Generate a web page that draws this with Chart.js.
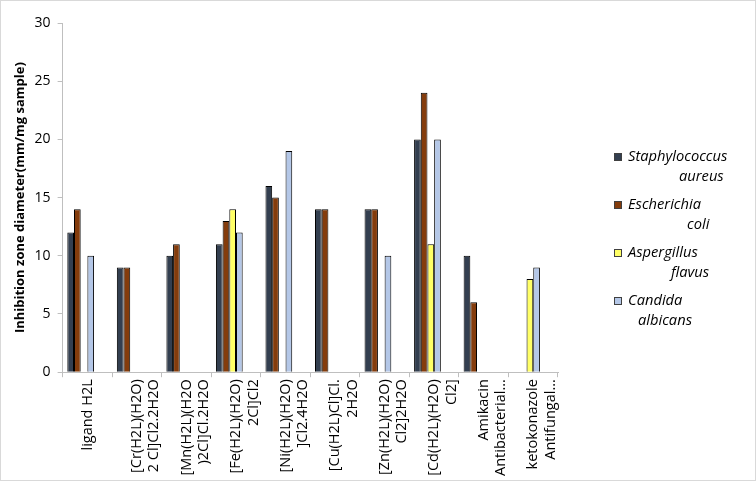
<!DOCTYPE html>
<html>
<head>
<meta charset="utf-8">
<script src="https://cdn.jsdelivr.net/npm/chart.js@4.4.0/dist/chart.umd.min.js"></script>
<style>
  html, body { margin: 0; padding: 0; background: #fff; }
  #wrap { position: relative; width: 756px; height: 481px; box-sizing: border-box; border: 1px solid #d9d9d9; }
</style>
</head>
<body>
<div id="wrap"><canvas id="bars" width="754" height="479"></canvas></div>
<script>
'use strict';

const compounds = [
  'ligand H2L',
  ['[Cr(H2L)(H2O)', '2 Cl]Cl2.2H2O'],
  ['[Mn(H2L)(H2O', ')2Cl]Cl.2H2O'],
  ['[Fe(H2L)(H2O)', '2Cl]Cl2'],
  ['[Ni(H2L)(H2O)', ']Cl2.4H2O'],
  ['[Cu(H2L)Cl]Cl.', '2H2O'],
  ['[Zn(H2L)(H2O)', 'Cl2]2H2O'],
  ['[Cd(H2L)(H2O)', 'Cl2]'],
  ['Amikacin', 'Antibacterial...'],
  ['ketokonazole', 'Antifungal...']
];

// microbes (two lines each, as in the legend)
const microbes = [
  ['Staphylococcus', 'aureus'],
  ['Escherichia', 'coli'],
  ['Aspergillus', 'flavus'],
  ['Candida', 'albicans']
];

const staphAureus = [12, 9, 10, 11, 16, 14, 14, 20, 10, 0];
const eColi       = [14, 9, 11, 13, 15, 14, 14, 24, 6, 0];
const aspFlavus   = [0, 0, 0, 14, 0, 0, 0, 11, 0, 8];
const candAlb     = [10, 0, 0, 12, 19, 0, 10, 20, 0, 9];

const yTicks = [0, 5, 10, 15, 20, 25, 30];

const colors = ['#333f50', '#843c0c', '#ffff66', '#b4c7e7'];
const font = 'Open Sans';

// draws the two line italic legend on the right
const sideLegend = {
  id: 'sideLegend',
  afterDraw(chart) {
    const ctx = chart.ctx;
    const x0 = 613, y0 = 156, step = 48;
    const secondX = [678, 686, 670, 637];
    ctx.save();
    microbes.forEach((lines, i) => {
      let y = y0 + i * step;
      ctx.fillStyle = colors[i];
      ctx.fillRect(x0, y - 4, 8, 8);
      ctx.strokeStyle = '#404040';
      ctx.lineWidth = 1;
      ctx.strokeRect(x0 + 0.5, y - 3.5, 7, 7);
      ctx.fillStyle = '#000';
      ctx.font = 'italic 14.7px ' + font;
      ctx.textBaseline = 'middle';
      ctx.textAlign = 'left';
      ctx.fillText(lines[0], x0 + 14, y);
      ctx.fillText(lines[1], secondX[i], y + 20);
    });
    ctx.restore();
  }
};

const series = [staphAureus, eColi, aspFlavus, candAlb];
let datasets = series.map((vals, i) => ({
  label: microbes[i].join(' '),
  data: vals,
  backgroundColor: colors[i],
  borderColor: '#000',
  borderWidth: 1,
  borderSkipped: 'bottom'
}));
// two empty slots so the group sits left in its category like the original
datasets.push({ label: '', data: [] }, { label: '', data: [] });

const barConfig = {
  type: 'bar',
  data: {
    labels: compounds,
    datasets: datasets
  },
  options: {
    responsive: false,
    animation: false,
    layout: { padding: { top: 22, right: 197, left: 11, bottom: 2 } },
    plugins: {
      legend: { display: false },
      tooltip: { enabled: false }
    },
    datasets: {
      bar: { categoryPercentage: 0.81, barPercentage: 1 }
    },
    scales: {
      x: {
        grid: { display: true, drawOnChartArea: false, drawTicks: true, tickLength: 5, color: '#bfbfbf', offset: true },
        border: { color: '#bfbfbf' },
        ticks: {
          color: '#000',
          font: { family: font, size: 14.5 },
          minRotation: 90,
          maxRotation: 90,
          autoSkip: false,
          padding: 2
        }
      },
      y: {
        min: 0,
        max: 30,
        afterBuildTicks: (axis) => { axis.ticks = yTicks.map(v => ({ value: v })); },
        grid: { display: true, drawOnChartArea: false, drawTicks: true, tickLength: 5, color: '#bfbfbf' },
        border: { color: '#bfbfbf' },
        ticks: { color: '#000', font: { family: font, size: 14 }, padding: 7 },
        title: {
          display: true,
          text: 'Inhibition zone diameter(mm/mg sample)',
          color: '#000',
          font: { family: font, size: 13, weight: 'bold' },
          padding: { top: 0, bottom: 0 }
        }
      }
    }
  },
  plugins: [sideLegend]
};

const barsCtx = document.getElementById('bars');
window.myBar = new Chart(barsCtx, barConfig);
</script>
</body>
</html>
